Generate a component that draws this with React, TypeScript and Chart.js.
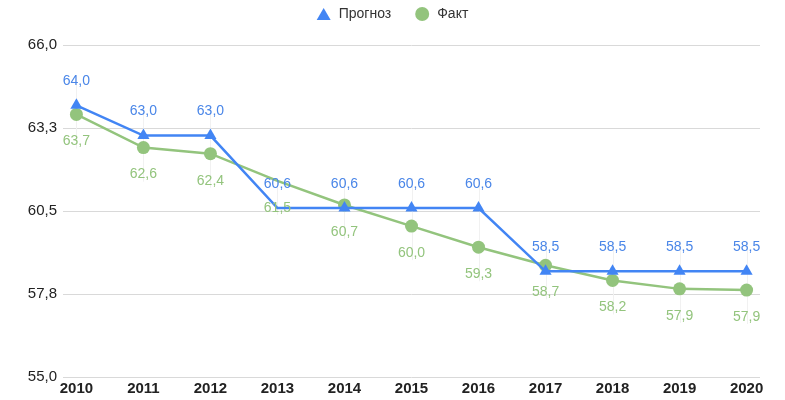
import React, { useEffect, useRef } from "react";
import { Chart, registerables } from "chart.js";

Chart.register(...registerables);

const years = [2010, 2011, 2012, 2013, 2014, 2015, 2016, 2017, 2018, 2019, 2020];
const forecast = [64.0, 63.0, 63.0, 60.6, 60.6, 60.6, 60.6, 58.5, 58.5, 58.5, 58.5];
const actual = [63.7, 62.6, 62.4, 61.5, 60.7, 60.0, 59.3, 58.7, 58.2, 57.92, 57.88];
const yTicks = [55, 57.75, 60.5, 63.25, 66];
const seriesNames = ["Прогноз", "Факт"];

const BLUE = "#4285f4";
const GREEN = "#93c47d";
const BLUE_TEXT = "#4a86e8";
const GREEN_TEXT = "#93c47d";
const FONT = "'Liberation Sans', Arial, sans-serif";

const fmt = (v: number) => v.toFixed(1).replace(".", ",");

export default function App() {
  const ref = useRef<HTMLCanvasElement | null>(null);

  useEffect(() => {
    document.body.style.margin = "0";
    if (!ref.current) return;

    const labelsPlugin = {
      id: "valueLabels",
      beforeDatasetsDraw(chart: any) {
        const ctx = chart.ctx;
        const m0 = chart.getDatasetMeta(0).data;
        const m1 = chart.getDatasetMeta(1).data;
        ctx.save();
        ctx.strokeStyle = "#f1f1f1";
        ctx.lineWidth = 1;
        for (let i = 0; i < m0.length; i++) {
          const x = m0[i].x;
          const top = m0[i].y - 30;
          const bot = m1[i].y + 34;
          ctx.beginPath();
          ctx.moveTo(Math.round(x) + 0.5, top);
          ctx.lineTo(Math.round(x) + 0.5, bot);
          ctx.stroke();
        }
        ctx.restore();
      },
      afterDatasetsDraw(chart: any) {
        const ctx = chart.ctx;
        ctx.save();
        ctx.font = `14px ${FONT}`;
        ctx.textAlign = "center";
        ctx.textBaseline = "middle";
        const m0 = chart.getDatasetMeta(0).data;
        const m1 = chart.getDatasetMeta(1).data;
        for (let i = 0; i < m1.length; i++) {
          ctx.fillStyle = GREEN_TEXT;
          ctx.fillText(fmt(actual[i]), m1[i].x, m1[i].y + 27);
        }
        for (let i = 0; i < m0.length; i++) {
          ctx.fillStyle = BLUE_TEXT;
          ctx.fillText(fmt(forecast[i]), m0[i].x, m0[i].y - 24);
        }
        ctx.restore();
      },
      afterDraw(chart: any) {
        const ctx = chart.ctx;
        ctx.save();
        ctx.font = `14px ${FONT}`;
        ctx.textBaseline = "middle";
        const w0 = ctx.measureText(seriesNames[0]).width;
        const w1 = ctx.measureText(seriesNames[1]).width;
        const total = 14 + 8 + w0 + 24 + 14 + 8 + w1;
        let x = chart.width / 2 - total / 2;
        const y = 14;
        ctx.fillStyle = BLUE;
        ctx.beginPath();
        ctx.moveTo(x + 7, y - 6);
        ctx.lineTo(x + 14, y + 6);
        ctx.lineTo(x, y + 6);
        ctx.closePath();
        ctx.fill();
        x += 22;
        ctx.fillStyle = "#333";
        ctx.fillText(seriesNames[0], x, y);
        x += w0 + 24;
        ctx.fillStyle = GREEN;
        ctx.beginPath();
        ctx.arc(x + 7, y, 7, 0, Math.PI * 2);
        ctx.fill();
        x += 22;
        ctx.fillStyle = "#333";
        ctx.fillText(seriesNames[1], x, y);
        ctx.restore();
      },
    };

    const hidden = (i: number) => (i === 3 ? 0 : undefined);

    const chart = new Chart(ref.current, {
      type: "line",
      data: {
        datasets: [
          {
            label: seriesNames[0],
            data: years.map((y, i) => ({ x: y, y: forecast[i] })),
            borderColor: BLUE,
            backgroundColor: BLUE,
            borderWidth: 2.5,
            pointStyle: "triangle",
            pointRadius: years.map((_, i) => hidden(i) ?? 7),
            pointBorderWidth: 0,
            tension: 0,
          },
          {
            label: seriesNames[1],
            data: years.map((y, i) => ({ x: y, y: actual[i] })),
            borderColor: GREEN,
            backgroundColor: GREEN,
            borderWidth: 2.5,
            pointStyle: "circle",
            pointRadius: years.map((_, i) => hidden(i) ?? 6.5),
            pointBorderWidth: 0,
            tension: 0,
          },
        ],
      },
      options: {
        responsive: false,
        animation: false,
        layout: { padding: { top: 45, right: 25, left: 0, bottom: 0 } },
        plugins: {
          legend: { display: false },
          tooltip: { enabled: false },
        },
        scales: {
          x: {
            type: "linear",
            min: 2009.8,
            max: 2020.2,
            afterBuildTicks: (s: any) => {
              s.ticks = years.map((v) => ({ value: v }));
            },
            afterFit: (s: any) => {
              s.height = 23;
            },
            grid: { display: false, drawTicks: false },
            border: { display: false },
            ticks: {
              autoSkip: false,
              maxRotation: 0,
              padding: 3,
              color: "#222",
              font: { family: FONT, size: 15, weight: "bold" },
              callback: (v: any) => String(v),
            },
          },
          y: {
            min: 55,
            max: 66,
            afterBuildTicks: (s: any) => {
              s.ticks = yTicks.map((v) => ({ value: v }));
            },
            afterFit: (s: any) => {
              s.width = 63;
            },
            grid: { color: "#d9d9d9", drawTicks: false, lineWidth: 1 },
            border: { display: false },
            ticks: {
              padding: 6,
              color: "#222",
              font: { family: FONT, size: 15 },
              callback: (v: any) => fmt(Number(v)),
            },
          },
        },
      },
      plugins: [labelsPlugin],
    } as any);

    return () => chart.destroy();
  }, []);

  return (
    <div style={{ width: 785, height: 400 }}>
      <canvas ref={ref} width={785} height={400} />
    </div>
  );
}
